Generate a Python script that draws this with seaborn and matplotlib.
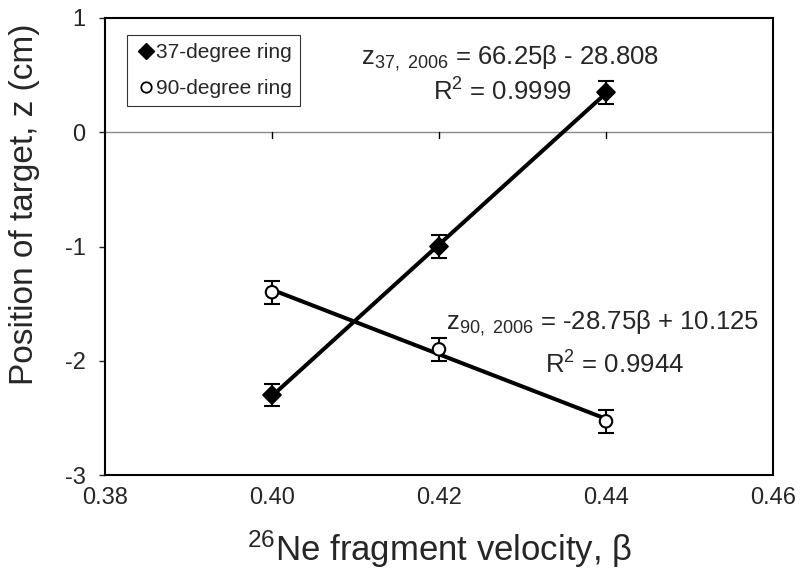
import numpy as np
import pandas as pd
import matplotlib
matplotlib.use("Agg")
import matplotlib.pyplot as plt
import seaborn as sns
from matplotlib.lines import Line2D

sns.set_theme(style="white")
plt.rcParams['font.family'] = ['Liberation Sans', 'DejaVu Sans']
plt.rcParams['mathtext.fontset'] = 'custom'
plt.rcParams['mathtext.rm'] = 'Liberation Sans'
plt.rcParams['mathtext.it'] = 'Liberation Sans'
plt.rcParams['mathtext.bf'] = 'Liberation Sans'

beta = [0.40, 0.42, 0.44]
z37 = [-2.30, -1.00, 0.35]
z90 = [-1.40, -1.90, -2.53]
err = [0.10, 0.10, 0.10]
x_ticks = [0.38, 0.40, 0.42, 0.44, 0.46]
x_labels = ["0.38", "0.40", "0.42", "0.44", "0.46"]
y_ticks = [-3, -2, -1, 0, 1]
labels = ["37-degree ring", "90-degree ring"]

df = pd.DataFrame({
    "beta": beta * 2,
    "z": z37 + z90,
    "ring": [labels[0]] * 3 + [labels[1]] * 3,
})

fig = plt.figure(figsize=(8.08, 5.72), dpi=100)
ax = fig.add_axes([105/808, 97/572, 668/808, 457/572])

ax.axhline(0, color="#888888", lw=1.0, zorder=1)

# trend lines from least squares fit
for zs in (z37, z90):
    p = np.polyfit(beta, zs, 1)
    xs = np.array([beta[0], beta[-1]])
    sns.lineplot(x=xs, y=np.polyval(p, xs), ax=ax, color="black", lw=2.9, zorder=2)

for zs in (z37, z90):
    ax.errorbar(beta, zs, yerr=err, fmt="none", ecolor="black", elinewidth=1.5,
                capsize=5.5, capthick=1.5, zorder=3)

sns.scatterplot(data=df, x="beta", y="z", hue="ring", style="ring",
                markers={labels[0]: "D", labels[1]: "o"},
                palette={labels[0]: "black", labels[1]: "black"},
                s=80, ax=ax, zorder=4, legend=False)
coll = ax.collections[-1]
fc = np.array([[0, 0, 0, 1]] * 3 + [[1, 1, 1, 1]] * 3)
coll.set_facecolors(fc)
coll.set_edgecolors("black")
coll.set_linewidths(1.5)

ax.set_xlim(0.38, 0.46)
ax.set_ylim(-3, 1)
ax.set_xticks(x_ticks)
ax.set_xticklabels(x_labels)
ax.set_yticks(y_ticks)
ax.set_yticklabels([str(v) for v in y_ticks])
ax.tick_params(axis="y", direction="out", length=4, width=1, pad=10, left=True, labelsize=17)
ax.tick_params(axis="x", length=0, pad=9, labelsize=17)
for xv in x_ticks[1:-1]:
    ax.plot([xv, xv], [0, -0.05], color="black", lw=1, zorder=1)

for s in ax.spines.values():
    s.set_color("black")
    s.set_linewidth(1.5)

ax.set_xlabel(r"$^{26}$Ne fragment velocity, β", fontsize=25)
ax.xaxis.label.set_va("center")
ax.xaxis.set_label_coords(0.5, -0.162)
ax.set_ylabel("Position of target, z (cm)", fontsize=24)
ax.yaxis.label.set_va("center")
ax.yaxis.set_label_coords(-0.12, 0.593)

handles = [Line2D([], [], marker="D", ls="none", color="black", markersize=8.5),
           Line2D([], [], marker="o", ls="none", markerfacecolor="white",
                  markeredgecolor="black", markeredgewidth=1.3, markersize=7.5)]
leg = ax.legend(handles, labels, loc="upper left", bbox_to_anchor=(0.033, 0.963),
                fontsize=15, frameon=True, fancybox=False, handletextpad=0.0,
                handlelength=1.0, borderpad=0.4, labelspacing=0.8, borderaxespad=0)
leg.get_frame().set_edgecolor("black")
leg.get_frame().set_linewidth(0.8)

ax.text(0.4285, 0.65, r"z$_{37,\ 2006}$ = 66.25β - 28.808", fontsize=18.5, ha="center", va="center")
ax.text(0.4193, 0.352, r"R$^{2}$ = 0.9999", fontsize=18.5, ha="left", va="center")
ax.text(0.4584, -1.67, r"z$_{90,\ 2006}$ = -28.75β + 10.125", fontsize=18.5, ha="right", va="center")
ax.text(0.4327, -2.037, r"R$^{2}$ = 0.9944", fontsize=18.5, ha="left", va="center")

fig.savefig("out.png", dpi=100)
